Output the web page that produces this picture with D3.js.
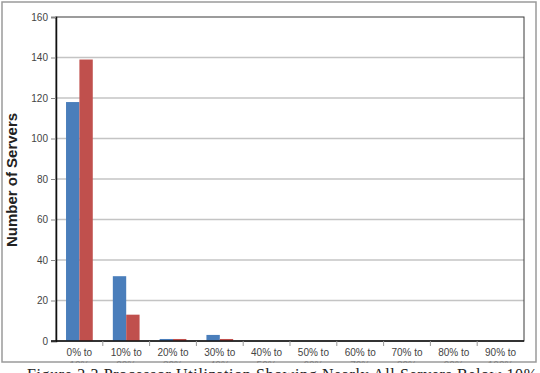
<!DOCTYPE html>
<html>
<head>
<meta charset="utf-8">
<script src="https://cdn.jsdelivr.net/npm/d3@7"></script>
<style>
  body { margin: 0; background: #fff; }
</style>
</head>
<body>
<div id="root"></div>
<script>
// data
const categories = ["0% to", "10% to", "20% to", "30% to", "40% to", "50% to", "60% to", "70% to", "80% to", "90% to"]
const categoriesLine2 = ["10%", "20%", "30%", "40%", "50%", "60%", "70%", "80%", "90%", "100%"]
const seriesNames = ["s1", "s2"]
const seriesA = [118, 32, 1, 3, 0, 0, 0, 0, 0, 0]
const seriesB = [139, 13, 1, 1, 0, 0, 0, 0, 0, 0]
const yTicks = [0, 20, 40, 60, 80, 100, 120, 140, 160]
const colors = ["#4a7ebb", "#c0504d"]

const W = 540, H = 373
const mLeft = 56, mRight = 524, mTop = 17, mBottom = 341
const sans = "'Liberation Sans', Arial, sans-serif"

const svg = d3.select("#root").append("svg")
    .attr("width", W)
    .attr("height", H)
    .attr("font-family", sans)

//scales
const x0 = d3.scaleBand()
    .domain(categories)
    .range([mLeft, mRight])

const x1 = d3.scaleBand()
    .domain(seriesNames)
    .range([0, x0.bandwidth()])
    .paddingOuter(0.75)

const y = d3.scaleLinear()
    .domain([0, 160])
    .range([mBottom, mTop])

svg.append("clipPath").attr("id", "chartclip")
    .append("rect")
    .attr("x", 0).attr("y", 0)
    .attr("width", W).attr("height", 363)

const chart = svg.append("g")
    .attr("clip-path", "url(#chartclip)")

// gridlines
chart.append("g")
    .selectAll("line")
    .data(yTicks.filter(d => d > 0 && d < 160))
    .join("line")
    .attr("x1", mLeft)
    .attr("x2", mRight)
    .attr("y1", d => y(d))
    .attr("y2", d => y(d))
    .attr("stroke", "#c4c4c4")
    .attr("stroke-width", 1.5)

// plot frame
chart.append("rect")
    .attr("x", mLeft)
    .attr("y", mTop)
    .attr("width", mRight - mLeft)
    .attr("height", mBottom - mTop)
    .attr("fill", "none")
    .attr("stroke", "#3a3a3a")
    .attr("stroke-width", 1)

// bars
const rows = categories.map((c, i) => ({cat: c, vals: [seriesA[i], seriesB[i]]}))

chart.append("g")
    .selectAll("g")
    .data(rows)
    .join("g")
    .attr("transform", d => `translate(${x0(d.cat)},0)`)
    .selectAll("rect")
    .data(d => d.vals.map((v, k) => ({key: seriesNames[k], v: v, k: k})))
    .join("rect")
    .attr("x", d => x1(d.key))
    .attr("width", x1.bandwidth())
    .attr("y", d => y(d.v))
    .attr("height", d => y(0) - y(d.v))
    .attr("fill", d => colors[d.k])

// y axis
const yAxis = chart.append("g")
    .attr("transform", `translate(${mLeft},0)`)
    .call(d3.axisLeft(y).tickValues(yTicks).tickSize(5).tickPadding(3))

yAxis.select(".domain").attr("stroke", "#111").attr("stroke-width", 1.5)
yAxis.selectAll(".tick line").attr("stroke", "#888")
yAxis.selectAll(".tick text")
    .attr("font-family", sans)
    .attr("font-size", 10)
    .attr("fill", "#444")

// x axis
chart.append("line")
    .attr("x1", mLeft - 5).attr("x2", mRight)
    .attr("y1", mBottom).attr("y2", mBottom)
    .attr("stroke", "#111")
    .attr("stroke-width", 1.5)

chart.append("g")
    .selectAll("line")
    .data(categories.slice(1))
    .join("line")
    .attr("x1", d => x0(d))
    .attr("x2", d => x0(d))
    .attr("y1", mBottom)
    .attr("y2", mBottom + 5)
    .attr("stroke", "#999")

// category labels, second line hidden under the frame edge
const xlab = chart.append("g")
    .selectAll("text")
    .data(categories)
    .join("text")
    .attr("x", d => x0(d) + x0.bandwidth() / 2)
    .attr("y", 356)
    .attr("text-anchor", "middle")
    .attr("font-size", 10)
    .attr("fill", "#444")

xlab.append("tspan").text(d => d)
xlab.append("tspan")
    .attr("x", d => x0(d) + x0.bandwidth() / 2)
    .attr("dy", 13)
    .text((d, i) => categoriesLine2[i])

// y label
chart.append("text")
    .attr("transform", "translate(17,180) rotate(-90)")
    .attr("text-anchor", "middle")
    .attr("font-size", 15)
    .attr("font-weight", "bold")
    .attr("fill", "#222")
    .text("Number of Servers")

// outer frame
svg.append("rect")
    .attr("x", 2)
    .attr("y", 2)
    .attr("width", 534)
    .attr("height", 360)
    .attr("fill", "none")
    .attr("stroke", "#9a9a9a")
    .attr("stroke-width", 1.5)

// caption (cut off at bottom)
svg.append("text")
    .attr("x", 27)
    .attr("y", 380)
    .attr("font-family", "'Liberation Serif', 'Times New Roman', serif")
    .attr("font-size", 16)
    .attr("fill", "#222")
    .attr("textLength", 510)
    .text("Figure 2.3    Processor Utilization Showing Nearly All Servers Below 10%")
</script>
</body>
</html>
